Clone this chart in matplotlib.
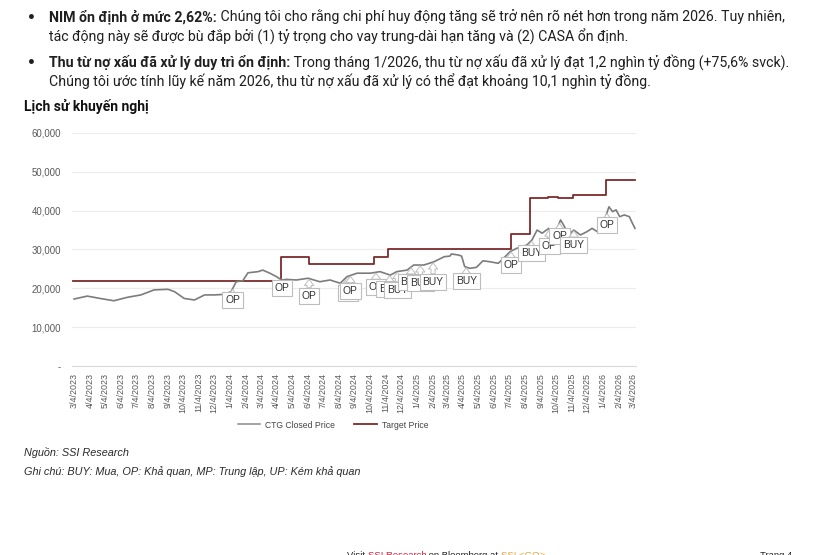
import numpy as np
import pandas as pd
import matplotlib
matplotlib.use("Agg")
import matplotlib.pyplot as plt
from matplotlib.lines import Line2D

# DATA
price_dates = ["2023-03-04", "2023-03-30", "2023-04-24", "2023-05-21", "2023-06-17", "2023-07-13",
               "2023-08-08", "2023-09-04", "2023-09-17", "2023-10-06", "2023-10-26", "2023-11-15",
               "2023-12-04", "2023-12-24", "2024-01-06", "2024-01-16", "2024-01-29", "2024-02-08",
               "2024-02-28", "2024-03-08", "2024-03-22", "2024-04-04", "2024-04-14", "2024-04-24",
               "2024-05-13", "2024-06-05", "2024-06-28", "2024-07-18", "2024-08-07", "2024-08-20",
               "2024-09-09", "2024-10-05", "2024-10-24", "2024-11-13", "2024-11-26", "2024-12-16",
               "2024-12-29", "2025-01-18", "2025-02-07", "2025-02-27", "2025-03-10", "2025-03-13",
               "2025-03-26", "2025-04-02", "2025-04-08", "2025-04-18", "2025-05-01", "2025-05-14",
               "2025-05-27", "2025-06-13", "2025-06-23", "2025-07-06", "2025-07-19", "2025-08-08",
               "2025-08-18", "2025-08-28", "2025-09-07", "2025-09-20", "2025-09-30", "2025-10-13",
               "2025-10-19", "2025-10-29", "2025-11-08", "2025-11-21", "2025-12-04", "2025-12-14",
               "2025-12-24", "2026-01-06", "2026-01-16", "2026-01-23", "2026-01-30", "2026-02-06",
               "2026-02-15", "2026-02-25", "2026-03-03", "2026-03-08"]
price_values = [17250, 18000, 17400, 16800, 17700, 18300,
                19600, 19750, 19150, 17400, 17000, 18300,
                18300, 18450, 19150, 21700, 21950, 24000,
                24300, 24700, 23900, 23000, 22150, 22300,
                22150, 22600, 21700, 22150, 21300, 23000,
                23900, 23900, 24300, 23400, 24300, 24700,
                26000, 26000, 26850, 28150, 28300, 28850,
                28600, 28300, 25600, 25150, 25400, 27100,
                26850, 26450, 27700, 29450, 30300, 31150,
                32450, 35000, 34200, 35450, 33300, 37600,
                36300, 33750, 35000, 33750, 34600, 35450,
                34600, 37150, 41000, 39750, 40200, 38450,
                38900, 38450, 36750, 35450]

target_dates = ["2023-03-01", "2024-04-13", "2024-06-07", "2024-10-13", "2024-11-09", "2025-07-07",
                "2025-08-15", "2025-09-19", "2025-10-09", "2025-11-07", "2026-01-10", "2026-03-08"]
target_values = [22000, 28100, 26200, 28000, 30100, 33900,
                 43200, 43600, 43200, 44000, 47900, 47900]

rec_dates = ["2024-01-09", "2024-04-15", "2024-06-07", "2024-08-22", "2024-08-27", "2024-10-16",
             "2024-11-12", "2024-11-27", "2024-12-24", "2025-01-11", "2025-02-05", "2025-04-11",
             "2025-07-08", "2025-08-17", "2025-09-21", "2025-10-11", "2025-11-08", "2026-01-12"]
rec_labels = ["OP", "OP", "OP", "OP", "OP", "OP",
              "BUY", "BUY", "BUY", "BUY", "BUY", "BUY",
              "OP", "BUY", "OP", "OP", "BUY", "OP"]
# vertical position of each callout box (layout)
rec_box_y = [17000, 20100, 18000, 18800, 19300, 20350,
             19830, 19570, 21630, 21370, 21630, 21890,
             26000, 29100, 30900, 33480, 31160, 36310]

y_ticks = [0, 10000, 20000, 30000, 40000, 50000, 60000]
y_tick_labels = ["-", "10,000", "20,000", "30,000", "40,000", "50,000", "60,000"]
x_tick_dates = pd.date_range("2023-03-01", "2026-03-04", freq="MS") + pd.Timedelta(days=3)

W, H = 814, 555
def fx(px):
    return px / W
def fy(py):
    return 1 - py / H

fig = plt.figure(figsize=(W / 100, H / 100), dpi=100)
fig.patch.set_facecolor("white")

# BODY TEXT
body_font = "Roboto"
text_col = "#1f1f1f"
lines = [
    (17, True, "NIM ổn định ở mức 2,62%:", " Chúng tôi cho rằng chi phí huy động tăng sẽ trở nên rõ nét hơn trong năm 2026. Tuy nhiên,"),
    (37, False, "", "tác động này sẽ được bù đắp bởi (1) tỷ trọng cho vay trung-dài hạn tăng và (2) CASA ổn định."),
    (62, True, "Thu từ nợ xấu đã xử lý duy trì ổn định:", " Trong tháng 1/2026, thu từ nợ xấu đã xử lý đạt 1,2 nghìn tỷ đồng (+75,6% svck)."),
    (81, False, "", "Chúng tôi ước tính lũy kế năm 2026, thu từ nợ xấu đã xử lý có thể đạt khoảng 10,1 nghìn tỷ đồng."),
]
fig.canvas.draw()
for ypx, bullet, bold_txt, rest in lines:
    if bullet:
        fig.text(fx(31), fy(ypx + 1), "•", fontsize=10, fontweight="bold", color=text_col,
                 family="DejaVu Sans", ha="center", va="center")
    xstart = fx(49)
    if bold_txt:
        t1 = fig.text(fx(49), fy(ypx), bold_txt, fontsize=10.2, fontweight="bold",
                      color=text_col, family=body_font, va="center")
        bb = t1.get_window_extent(renderer=fig.canvas.get_renderer())
        xstart = bb.x1 / W
    fig.text(xstart, fy(ypx), rest, fontsize=10.2, color=text_col, family=body_font, va="center")

fig.text(fx(24), fy(106), "Lịch sử khuyến nghị", fontsize=10, fontweight="bold",
         color="#111111", family=body_font, va="center")

# CHART
ax = fig.add_axes([fx(72), fy(366), fx(636) - fx(72), fy(133) - fy(366)])
pd_dates = pd.to_datetime(price_dates)
td = pd.to_datetime(target_dates)

ax.plot(pd_dates, price_values, color="#7c7c7c", lw=1.2, zorder=3)
ax.step(td, target_values, where="post", color="#7b2b2b", lw=1.3, zorder=2)

ax.set_ylim(0, 60000)
ax.set_xlim(pd.Timestamp("2023-02-28"), pd.Timestamp("2026-03-10"))
ax.set_yticks(y_ticks)
ax.set_yticklabels(y_tick_labels)
ax.set_xticks(x_tick_dates)
ax.set_xticklabels([f"{d.month}/{d.day}/{d.year}" for d in x_tick_dates], rotation=90)
ax.tick_params(axis="both", length=0, labelsize=6.4, labelcolor="#595959", pad=5)
ax.tick_params(axis="y", labelsize=6.9, pad=8)
for lab in ax.get_xticklabels() + ax.get_yticklabels():
    lab.set_family("Liberation Sans")
ax.grid(axis="y", color="#ececec", lw=0.8)
ax.set_axisbelow(True)
for s in ["top", "right", "left"]:
    ax.spines[s].set_visible(False)
ax.spines["bottom"].set_color("#d9d9d9")

# recommendation callouts
x_num = matplotlib.dates.date2num(pd_dates)
for d, lab, by in zip(rec_dates, rec_labels, rec_box_y):
    dn = matplotlib.dates.date2num(pd.Timestamp(d))
    py = np.interp(dn, x_num, price_values)
    ax.annotate(lab, xy=(dn, py - 200), xytext=(dn, by), ha="center", va="center",
                fontsize=7.4, color="#333333", family="Liberation Sans", zorder=5,
                bbox=dict(boxstyle="square,pad=0.28", fc="white", ec="#bdbdbd", lw=0.8),
                arrowprops=dict(arrowstyle="simple,head_width=0.9,head_length=0.6,tail_width=0.4",
                                fc="white", ec="#bdbdbd", lw=0.7, shrinkA=0, shrinkB=0))

# legend
handles = [Line2D([], [], color="#8a8a8a", lw=1.1), Line2D([], [], color="#7b2b2b", lw=1.3)]
leg = fig.legend(handles, ["CTG Closed Price", "Target Price"], loc="center",
                 bbox_to_anchor=(fx(333), fy(425)), ncol=2, frameon=False,
                 prop={"family": "Liberation Sans", "size": 6.2}, handlelength=2.6,
                 columnspacing=2.2, handletextpad=0.6)
for t in leg.get_texts():
    t.set_color("#444444")

# footnotes
fig.text(fx(24), fy(452), "Nguồn: SSI Research", fontsize=7.8, style="italic",
         color="#2a2a2a", family="Liberation Sans", va="center")
fig.text(fx(24), fy(472), "Ghi chú: BUY: Mua, OP: Khả quan, MP: Trung lập, UP: Kém khả quan",
         fontsize=7.8, style="italic", color="#2a2a2a", family="Liberation Sans", va="center")

# page footer (cut off at the bottom edge as in the page screenshot)
footer = [("Visit ", "#222222"), ("SSI Research", "#d0203a"), (" on Bloomberg at ", "#222222"),
          ("SSI <GO>", "#e8a33a")]
rend = fig.canvas.get_renderer()
xcur = fx(347)
for txt, col in footer:
    t = fig.text(xcur, fy(556), txt, fontsize=6.8, color=col, family="Liberation Sans", va="center")
    xcur = t.get_window_extent(renderer=rend).x1 / W
fig.text(fx(760), fy(556), "Trang 4", fontsize=6.8, color="#222222", family="Liberation Sans", va="center")

fig.savefig("out.png", dpi=100)
